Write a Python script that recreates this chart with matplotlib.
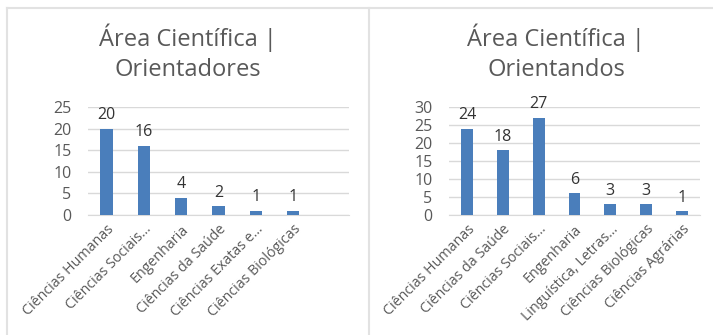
import matplotlib.pyplot as plt
from matplotlib.lines import Line2D

plt.rcParams['font.family'] = ['Open Sans', 'DejaVu Sans']

# Orientadores
cats_left = ['Ciências Humanas', 'Ciências Sociais...', 'Engenharia',
             'Ciências da Saúde', 'Ciências Exatas e...', 'Ciências Biológicas']
vals_left = [20, 16, 4, 2, 1, 1]

# Orientandos
cats_right = ['Ciências Humanas', 'Ciências da Saúde', 'Ciências Sociais...',
              'Engenharia', 'Linguística, Letras...', 'Ciências Biológicas',
              'Ciências Agrárias']
vals_right = [24, 18, 27, 6, 3, 3, 1]

bar_color = '#4a7ebb'
grey = '#595959'
grid_color = '#d9d9d9'

fig = plt.figure(figsize=(7.13, 3.35), dpi=100)

# panel frame lines
for xs, ys in [([7, 7], [0, 327]), ([369, 369], [0, 327]), ([7, 713], [327, 327])]:
    fig.add_artist(Line2D([x / 713 for x in xs], [y / 335 for y in ys],
                          color='#e2e2e2', linewidth=1.5))


def draw(rect, cats, vals, ymax, nslots, title, title_x):
    ax = fig.add_axes(rect)
    x = range(len(cats))
    bars = ax.bar(x, vals, width=0.33, color=bar_color, zorder=3)
    ax.set_xlim(-0.5, nslots - 0.5)
    ax.set_ylim(0, ymax)
    ax.set_yticks(range(0, ymax + 1, 5))
    ax.grid(axis='y', color=grid_color, linewidth=1)
    for s in ['top', 'right', 'left']:
        ax.spines[s].set_visible(False)
    ax.spines['bottom'].set_color(grid_color)
    ax.tick_params(axis='both', length=0, colors=grey, labelsize=11.5)
    ax.tick_params(axis='y', pad=12)
    ax.tick_params(axis='x', pad=5)
    ax.set_xticks(list(x))
    ax.set_xticklabels(cats, rotation=45, ha='right', rotation_mode='anchor',
                       fontsize=10.3, color=grey)
    for b, v in zip(bars, vals):
        ax.annotate(str(v), (b.get_x() + b.get_width() / 2, v),
                    xytext=(0, 4), textcoords='offset points',
                    ha='center', va='bottom', fontsize=11.5, color='#333333')
    fig.text(title_x, 0.843, title, ha='center', va='center',
             fontsize=17, color=grey, linespacing=1.3)


draw([88 / 713, 120 / 335, 261 / 713, 108 / 335], cats_left, vals_left, 25, 7,
     'Área Científica |\nOrientadores', 188 / 713)
draw([449 / 713, 120 / 335, 251 / 713, 108 / 335], cats_right, vals_right, 30, 7,
     'Área Científica |\nOrientandos', 556 / 713)

fig.savefig('out.png', dpi=100)
